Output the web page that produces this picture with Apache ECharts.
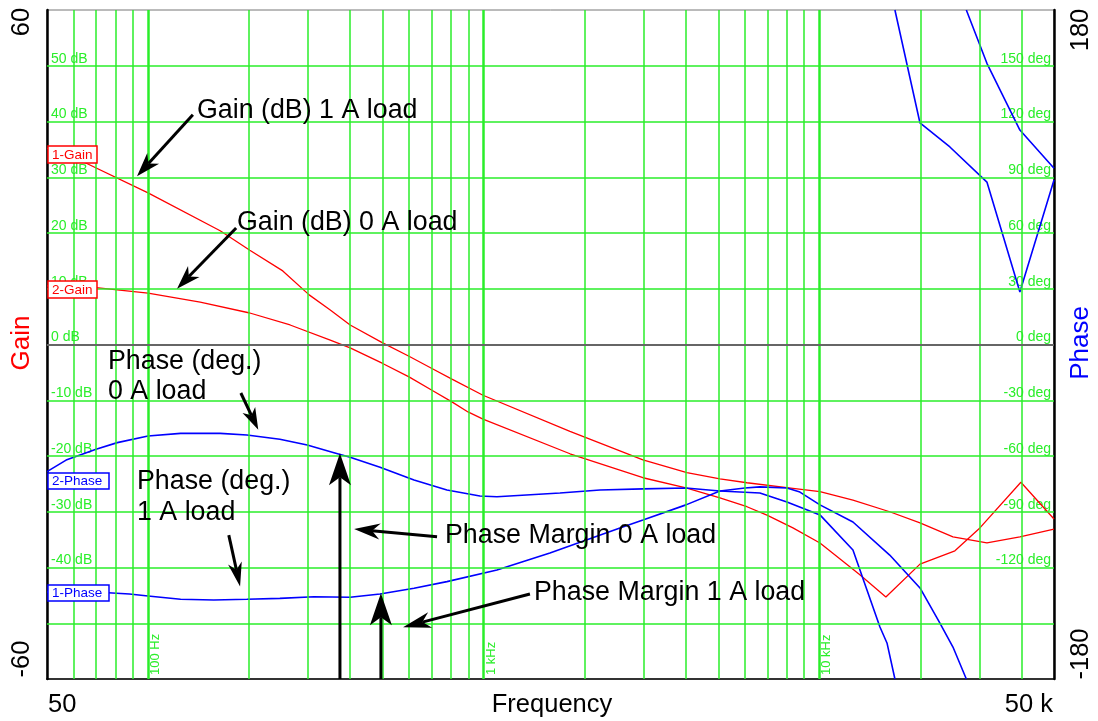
<!DOCTYPE html>
<html>
<head>
<meta charset="utf-8">
<script src="https://cdn.jsdelivr.net/npm/echarts@6/dist/echarts.min.js"></script>
<style>
  html, body { margin: 0; padding: 0; background: #fff; }
  #chart { width: 1098px; height: 721px; }
</style>
</head>
<body>
<div id="chart"></div>
<script>
// values (Hz, dB, deg)
const gain1Freq = [50, 65, 100, 164, 201, 252, 302, 349, 400, 500, 599, 701, 804, 995, 1807, 2981, 4030, 5055, 6085, 8340, 10040, 12590, 16200, 19940, 25000, 31560, 39570, 50000];
const gain1Db = [35.2, 32.6, 27.2, 20.4, 16.9, 13.2, 8.9, 6.2, 3.5, 0.3, -2.1, -4.3, -6.2, -9.1, -15.6, -20.7, -23.0, -24.1, -24.8, -25.8, -26.4, -27.9, -30.0, -32.0, -34.5, -35.6, -34.5, -33.1];

const gain2Freq = [50, 70, 100, 143, 201, 265, 349, 400, 500, 599, 701, 804, 898, 995, 1807, 2981, 4004, 5055, 6085, 6980, 8340, 10040, 13200, 15780, 19940, 25340, 30070, 39840, 50000];
const gain2Db = [10.5, 10.2, 9.2, 7.6, 5.65, 3.5, 0.8, -0.6, -3.4, -5.8, -8.2, -10.3, -12.1, -13.4, -19.6, -23.9, -25.7, -27.5, -29.1, -30.6, -32.9, -35.6, -41.3, -45.3, -39.4, -37.0, -32.9, -24.7, -31.3];

// null = where the trace wraps from -180 to +180
const phase2Freq = [50, 57, 70, 81, 100, 125, 164, 197, 247, 298, 358, 400, 491, 620, 777, 974, 1095, 1687, 2220, 2981, 4004, 5055, 6650, 8005, 10040, 12590, 13860, 15150, 15900, 16790, 16790, 16790, 19940, 24480, 31560, 39570, 50000];
const phase2Deg = [-68.4, -62.2, -56.4, -52.8, -49.2, -47.8, -47.8, -48.7, -51.0, -54.1, -58.2, -60.7, -66.1, -72.9, -78.3, -81.5, -81.9, -79.9, -78.3, -77.7, -77.2, -78.8, -79.9, -84.7, -91.7, -110.6, -132.1, -152.0, -160.6, -180, null, 180, 119.2, 106.3, 87.4, 28.3, 88.5];

const phase1Freq = [50, 76, 88, 100, 125, 157, 197, 247, 312, 400, 491, 620, 777, 1095, 1575, 2546, 2981, 4004, 5055, 6000, 6650, 8005, 8750, 10040, 12590, 16200, 19940, 22860, 25000, 27400, 27400, 27400, 31560, 39570, 50000];
const phase1Deg = [-133.2, -133.6, -134.3, -135.3, -137.1, -137.5, -137.1, -136.6, -135.7, -136.0, -134.3, -131.2, -127.6, -121.3, -112.2, -98.7, -94.4, -86.3, -78.8, -77.2, -76.6, -77.2, -79.4, -86.3, -95.5, -113.3, -131.0, -149.9, -162.8, -180, null, 180, 151.3, 115.4, 94.8];

const decadeFreqs = [100, 1000, 10000];
const decadeLabels = ['100 Hz', '1 kHz', '10 kHz'];
const gainTicks = [-50, -40, -30, -20, -10, 0, 10, 20, 30, 40, 50];

const GREEN = '#2aee2a';
const FONT = '"Liberation Sans", Arial, sans-serif';

function zip (xs, ys) {
  return xs.map((x, i) => [x, ys[i] === null ? '-' : ys[i]])
}

// vertical grid: 60..90, 100..900, 1k..9k, 10k..40k
const gridFreqs = [];
[10, 100, 1000, 10000].forEach(d => {
  for (let m = 1; m <= 9; m++) {
    const f = m * d;
    if (f > 50 && f < 50000) gridFreqs.push(f);
  }
});

const gridMarks = gridFreqs.map(f => ({
  xAxis: f,
  lineStyle: { color: GREEN, type: 'solid', width: decadeFreqs.includes(f) ? 2.5 : 1.5 }
})).concat(gainTicks.map(v => ({
  yAxis: v,
  lineStyle: v === 0 ? { color: '#666', type: 'solid', width: 2 } : { color: GREEN, type: 'solid', width: 1.5 }
})));

const chart = echarts.init(document.getElementById('chart'));

const inLabel = {
  inside: true,
  color: GREEN,
  fontSize: 14,
  fontFamily: FONT,
  verticalAlign: 'bottom',
  backgroundColor: '#fff',
  padding: [0, 1, 0, 1]
};

chart.setOption({
  animation: false,
  grid: { left: 47, top: 10, width: 1007, height: 669, show: true, borderColor: '#777', borderWidth: 1 },
  xAxis: {
    type: 'log',
    logBase: 10,
    min: 50,
    max: 50000,
    axisLine: { show: true, onZero: false, lineStyle: { color: '#333', width: 2 } },
    axisTick: { show: false },
    axisLabel: { show: false },
    splitLine: { show: false }
  },
  yAxis: [
    {
      type: 'value',
      min: -60,
      max: 60,
      interval: 10,
      position: 'left',
      z: 1.5,
      axisLine: { show: true, onZero: false, lineStyle: { color: '#000', width: 2.5 } },
      axisTick: { show: false },
      splitLine: { show: false },
      axisLabel: Object.assign({}, inLabel, {
        margin: 3,
        align: 'left',
        formatter: v => (v === 60 || v <= -50) ? '' : v + ' dB'
      })
    },
    {
      type: 'value',
      min: -180,
      max: 180,
      interval: 30,
      position: 'right',
      z: 1.5,
      axisLine: { show: true, onZero: false, lineStyle: { color: '#000', width: 2.5 } },
      axisTick: { show: false },
      splitLine: { show: false },
      axisLabel: Object.assign({}, inLabel, {
        margin: 2,
        align: 'right',
        formatter: v => (v === 180 || v <= -150) ? '' : v + ' deg'
      })
    }
  ],
  series: [
    {
      type: 'line',
      z: 1,
      silent: true,
      data: [[50, 0]],
      symbol: 'none',
      lineStyle: { opacity: 0 },
      markLine: {
        silent: true,
        symbol: 'none',
        animation: false,
        label: { show: false },
        data: gridMarks
      }
    },
    {
      type: 'line', name: '1-Gain', yAxisIndex: 0, z: 3, silent: true,
      data: zip(gain1Freq, gain1Db), symbol: 'none',
      lineStyle: { color: '#ff0000', width: 1.3 }
    },
    {
      type: 'line', name: '2-Gain', yAxisIndex: 0, z: 3, silent: true,
      data: zip(gain2Freq, gain2Db), symbol: 'none',
      lineStyle: { color: '#ff0000', width: 1.3 }
    },
    {
      type: 'line', name: '2-Phase', yAxisIndex: 1, z: 3, silent: true,
      data: zip(phase2Freq, phase2Deg), symbol: 'none', connectNulls: false,
      lineStyle: { color: '#0000ff', width: 1.6 }
    },
    {
      type: 'line', name: '1-Phase', yAxisIndex: 1, z: 3, silent: true,
      data: zip(phase1Freq, phase1Deg), symbol: 'none', connectNulls: false,
      lineStyle: { color: '#0000ff', width: 1.6 }
    }
  ]
});

// annotations
const notes = [
  { text: 'Gain (dB) 1 A load', x: 197, y: 111 },
  { text: 'Gain (dB) 0 A load', x: 237, y: 223 },
  { text: 'Phase (deg.)', x: 108, y: 362 },
  { text: '0 A load', x: 108, y: 392 },
  { text: 'Phase (deg.)', x: 137, y: 482 },
  { text: '1 A load', x: 137, y: 513 },
  { text: 'Phase Margin 0 A load', x: 445, y: 536 },
  { text: 'Phase Margin 1 A load', x: 534, y: 593 }
];

// arrows in (Hz, dB): tail -> tip, head length / half width / notch
const arrows = [
  { from: [136, 41.2], to: [92.7, 30.2], L: 24, W: 8, N: 17 },
  { from: [183, 20.9], to: [122, 10.0], L: 24, W: 8, N: 17 },
  { from: [189, -8.7], to: [213, -15.3], L: 22, W: 7, N: 16 },
  { from: [174, -34.2], to: [188, -43.4], L: 24, W: 7, N: 17 },
  { from: [373, -60], to: [373, -19.5], L: 32, W: 11, N: 24 },
  { from: [494, -60], to: [494, -44.6], L: 32, W: 11, N: 24 },
  { from: [726, -34.5], to: [411, -33.1], L: 26, W: 8, N: 18 },
  { from: [1373, -44.75], to: [575, -50.7], L: 28, W: 8, N: 20 }
];

const boxes = [
  { text: '1-Gain', color: '#ff0000', x: 48, y: 146, w: 49, h: 17 },
  { text: '2-Gain', color: '#ff0000', x: 48, y: 281, w: 49, h: 17 },
  { text: '2-Phase', color: '#0000ff', x: 48, y: 473, w: 61, h: 16 },
  { text: '1-Phase', color: '#0000ff', x: 48, y: 585, w: 61, h: 16 }
];

function txt (text, x, y, opts) {
  const o = opts || {};
  return {
    type: 'text',
    x: x,
    y: y,
    rotation: o.rotation || 0,
    z: 20,
    silent: true,
    style: {
      text: text,
      fill: o.fill || '#000',
      font: (o.size || 26.8) + 'px ' + FONT,
      align: o.align || 'left',
      textAlign: o.align || 'left',
      verticalAlign: 'middle',
      textVerticalAlign: 'middle'
    }
  };
}

const els = [];

notes.forEach(n => els.push(txt(n.text, n.x, n.y)));

arrows.forEach(a => {
  const t = chart.convertToPixel({ xAxisIndex: 0, yAxisIndex: 0 }, a.from);
  const p = chart.convertToPixel({ xAxisIndex: 0, yAxisIndex: 0 }, a.to);
  const dx = p[0] - t[0];
  const dy = p[1] - t[1];
  const len = Math.sqrt(dx * dx + dy * dy);
  const ux = dx / len;
  const uy = dy / len;
  const nx = -uy;
  const ny = ux;
  const bx = p[0] - ux * a.L;
  const by = p[1] - uy * a.L;
  const notch = [p[0] - ux * a.N, p[1] - uy * a.N];
  els.push({
    type: 'polyline', z: 20, silent: true,
    shape: { points: [t, notch] },
    style: { stroke: '#000', lineWidth: 3, fill: null }
  });
  els.push({
    type: 'polygon', z: 20, silent: true,
    shape: { points: [p, [bx + nx * a.W, by + ny * a.W], notch, [bx - nx * a.W, by - ny * a.W]] },
    style: { fill: '#000' }
  });
});

boxes.forEach(b => {
  els.push({
    type: 'rect', z: 20, silent: true,
    shape: { x: b.x, y: b.y, width: b.w, height: b.h },
    style: { fill: '#fff', stroke: b.color, lineWidth: 1.5 }
  });
  els.push(txt(b.text, b.x + 4, b.y + b.h / 2 + 0.5, { size: 13.5, fill: b.color }));
});

decadeFreqs.forEach((f, i) => {
  const px = chart.convertToPixel({ xAxisIndex: 0 }, f);
  els.push(txt(decadeLabels[i], px + 7.5, 675, { size: 13, fill: GREEN, rotation: Math.PI / 2 }));
});

// outer axis texts
const R = Math.PI / 2;
els.push(txt('60', 22, 22, { size: 25.5, rotation: R, align: 'center' }));
els.push(txt('-60', 22, 659, { size: 25.5, rotation: R, align: 'center' }));
els.push(txt('Gain', 22, 343, { size: 26, rotation: R, align: 'center', fill: '#ff0000' }));
els.push(txt('180', 1081, 30, { size: 25.5, rotation: R, align: 'center' }));
els.push(txt('-180', 1081, 654, { size: 25.5, rotation: R, align: 'center' }));
els.push(txt('Phase', 1081, 343, { size: 26, rotation: R, align: 'center', fill: '#0000ff' }));
els.push(txt('50', 48, 705, { size: 25.5 }));
els.push(txt('Frequency', 552, 705, { size: 25.5, align: 'center' }));
els.push(txt('50 k', 1053, 705, { size: 25.5, align: 'right' }));

chart.setOption({ graphic: { elements: els } });
</script>
</body>
</html>
